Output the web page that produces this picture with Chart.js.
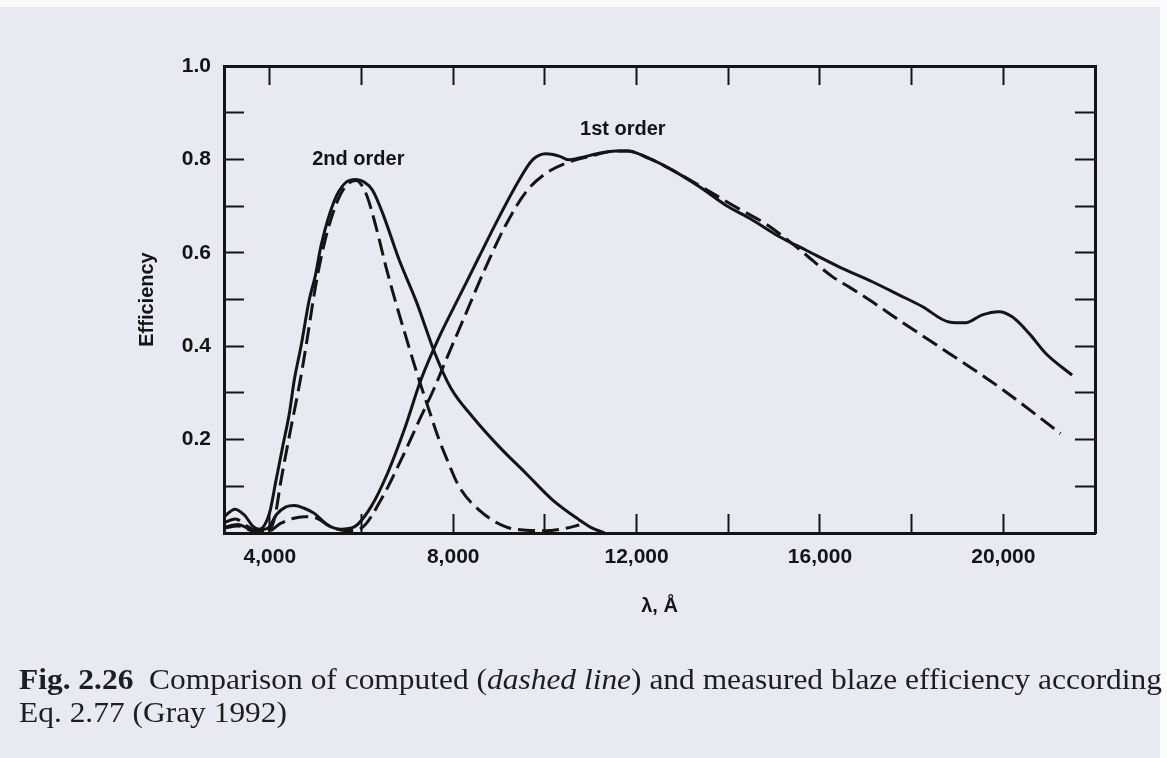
<!DOCTYPE html>
<html>
<head>
<meta charset="utf-8">
<script src="https://cdn.jsdelivr.net/npm/chart.js@4.4.1/dist/chart.umd.min.js"></script>
<style>
  html, body { margin: 0; padding: 0; background: #fbfbfd; }
  #page { position: absolute; left: 0; top: 7px; width: 1160px; height: 751px; background: #e8e9f1; }
  #wrap { position: absolute; left: 0; top: 0; width: 1167px; height: 758px; }
  #caption {
    position: absolute; left: 19px; top: 662px;
    font-family: "Liberation Serif", "Times New Roman", serif;
    font-size: 30px; line-height: 33px; color: #1e1e22;
    white-space: nowrap; transform-origin: 0 0;
  }
</style>
</head>
<body>
<div id="page"></div>
<div id="wrap"><canvas id="blaze" width="1167" height="758"></canvas></div>
<div id="caption"><span id="line1"><b>Fig. 2.26</b>&nbsp; Comparison of computed (<i>dashed line</i>) and measured blaze efficiency according</span><br>Eq. 2.77 (Gray 1992)</div>

<script>
// wavelength in Angstrom, efficiency 0..1

// 2nd order, measured (solid)
const wl2Meas = [3000, 3240, 3450, 3625, 3770, 3990, 4135, 4280, 4425, 4534, 4680, 4861, 4990, 5116, 5400, 5650, 5880, 6050, 6240, 6460, 6820, 7190, 7600, 7950, 8420, 9000, 9585, 10165, 10750, 11000, 11300];
const eff2Meas = [0.035, 0.051, 0.038, 0.015, 0.008, 0.042, 0.113, 0.185, 0.256, 0.328, 0.400, 0.500, 0.550, 0.615, 0.710, 0.750, 0.757, 0.752, 0.734, 0.685, 0.585, 0.497, 0.385, 0.310, 0.249, 0.185, 0.128, 0.071, 0.028, 0.012, 0.000];

// 2nd order, computed (dashed)
const wl2Calc = [3000, 3250, 3500, 3750, 3950, 4100, 4244, 4450, 4665, 4789, 5000, 5200, 5450, 5650, 5880, 6097, 6315, 6533, 6751, 6969, 7187, 7450, 7695, 7841, 8131, 8567, 9149, 9585, 10000, 10400, 10750];
const eff2Calc = [0.022, 0.030, 0.015, 0.004, 0.004, 0.030, 0.113, 0.220, 0.328, 0.400, 0.530, 0.625, 0.705, 0.742, 0.755, 0.727, 0.656, 0.570, 0.492, 0.420, 0.349, 0.270, 0.199, 0.163, 0.099, 0.049, 0.013, 0.006, 0.005, 0.009, 0.017];

// 1st order, measured (solid)
const wl1Meas = [3000, 3300, 3650, 3950, 4150, 4350, 4534, 4750, 4970, 5260, 5552, 5842, 6206, 6568, 6932, 7296, 7695, 8131, 8567, 9003, 9439, 9730, 10021, 10311, 10529, 10750, 11183, 11547, 11800, 12273, 12781, 13363, 13945, 14500, 15107, 15689, 16415, 17142, 17722, 18232, 18813, 19177, 19539, 19903, 20193, 20557, 20921, 21500];
const eff1Meas = [0.012, 0.018, 0.006, 0.010, 0.040, 0.056, 0.059, 0.053, 0.042, 0.017, 0.008, 0.013, 0.056, 0.128, 0.221, 0.328, 0.420, 0.506, 0.592, 0.677, 0.756, 0.799, 0.812, 0.807, 0.799, 0.803, 0.813, 0.818, 0.818, 0.802, 0.777, 0.742, 0.702, 0.672, 0.635, 0.606, 0.570, 0.538, 0.510, 0.485, 0.452, 0.450, 0.467, 0.474, 0.463, 0.428, 0.385, 0.338];

// 1st order, computed (dashed)
const wl1Calc = [3000, 3300, 3650, 3950, 4244, 4500, 4752, 5042, 5334, 5696, 5988, 6424, 6860, 7296, 7586, 7841, 8277, 8713, 9149, 9585, 10021, 10457, 10965, 11547, 11800, 12273, 12781, 13509, 14235, 14817, 15543, 16269, 16633, 17142, 17722, 18813, 19903, 21248];
const eff1Calc = [0.010, 0.015, 0.004, 0.003, 0.021, 0.031, 0.035, 0.031, 0.013, 0.005, 0.010, 0.071, 0.156, 0.249, 0.310, 0.370, 0.470, 0.570, 0.660, 0.730, 0.770, 0.792, 0.806, 0.818, 0.818, 0.802, 0.777, 0.736, 0.694, 0.662, 0.608, 0.549, 0.527, 0.495, 0.456, 0.385, 0.313, 0.213];

// axes
const xTicks = [4000, 6000, 8000, 10000, 12000, 14000, 16000, 18000, 20000];
const xLabelled = [4000, 8000, 12000, 16000, 20000];
const yTicks = [0.1, 0.2, 0.3, 0.4, 0.5, 0.6, 0.7, 0.8, 0.9];
const yLabelled = [0.2, 0.4, 0.6, 0.8, 1.0];

const curveLabels = [
  { text: '2nd order', x: 5930, y: 0.800 },
  { text: '1st order', x: 11700, y: 0.863 }
];

const ink = '#141416';
const sans = '"Liberation Sans", Arial, sans-serif';

function pts(xs, ys) {
  return xs.map((x, i) => ({ x: x, y: ys[i] }));
}

function line(xs, ys, dashed) {
  return {
    data: pts(xs, ys),
    borderColor: ink,
    borderWidth: 3,
    borderDash: dashed ? [17, 7] : [],
    pointRadius: 0,
    fill: false,
    cubicInterpolationMode: 'monotone'
  };
}

const frameGrid = (len) => ({
  drawOnChartArea: false,
  drawTicks: true,
  tickLength: len,
  tickWidth: 2,
  tickColor: ink
});
const frameBorder = { display: true, width: 3, color: ink };

// labels inside the plot, placed through the scales
const curveLabelPlugin = {
  id: 'curveLabels',
  afterDatasetsDraw(chart) {
    const { ctx, scales } = chart;
    ctx.save();
    ctx.font = 'bold 20px ' + sans;
    ctx.fillStyle = ink;
    ctx.textAlign = 'center';
    ctx.textBaseline = 'middle';
    curveLabels.forEach(l => {
      ctx.fillText(l.text, scales.x.getPixelForValue(l.x), scales.y.getPixelForValue(l.y));
    });
    ctx.restore();
  }
};

new Chart(document.getElementById('blaze'), {
  type: 'line',
  data: {
    datasets: [
      line(wl2Meas, eff2Meas, false),
      line(wl2Calc, eff2Calc, true),
      line(wl1Meas, eff1Meas, false),
      line(wl1Calc, eff1Calc, true)
    ]
  },
  options: {
    responsive: false,
    animation: false,
    layout: { padding: { top: 46, right: 52, bottom: 115, left: 0 } },
    plugins: { legend: { display: false }, tooltip: { enabled: false } },
    scales: {
      x: {
        type: 'linear', position: 'bottom', min: 3000, max: 22000,
        afterBuildTicks: s => { s.ticks = xTicks.map(v => ({ value: v })); },
        afterFit: s => { s.height = 110; },
        ticks: {
          autoSkip: false, maxRotation: 0, padding: 31,
          color: ink, font: { family: sans, size: 21, weight: 'bold' },
          callback: v => xLabelled.includes(v) ? v.toLocaleString('en-US') : ''
        },
        grid: frameGrid(-19),
        border: frameBorder,
        title: {
          display: true, text: 'λ, Å', color: ink,
          font: { family: sans, size: 20, weight: 'bold' },
          padding: { top: 0, bottom: 25 }
        }
      },
      xTop: {
        type: 'linear', position: 'top', min: 3000, max: 22000,
        afterBuildTicks: s => { s.ticks = xTicks.map(v => ({ value: v })); },
        afterFit: s => { s.height = 20; },
        ticks: { display: false },
        grid: frameGrid(-19),
        border: frameBorder
      },
      y: {
        type: 'linear', position: 'left', min: 0, max: 1,
        afterBuildTicks: s => { s.ticks = yTicks.concat([1.0]).map(v => ({ value: v })); },
        afterFit: s => { s.width = 224; },
        ticks: {
          padding: 33, color: ink, font: { family: sans, size: 21, weight: 'bold' },
          callback: v => yLabelled.some(t => Math.abs(t - v) < 1e-6) ? v.toFixed(1) : ''
        },
        grid: frameGrid(-20),
        border: frameBorder,
        title: {
          display: true, text: 'Efficiency', color: ink,
          font: { family: sans, size: 20, weight: 'bold' },
          padding: { top: 135, bottom: 0 }
        }
      },
      yRight: {
        type: 'linear', position: 'right', min: 0, max: 1,
        afterBuildTicks: s => { s.ticks = yTicks.map(v => ({ value: v })); },
        afterFit: s => { s.width = 20; },
        ticks: { display: false },
        grid: frameGrid(-20),
        border: frameBorder
      }
    }
  },
  plugins: [curveLabelPlugin]
});

// squeeze the caption so its first line spans the page width like the scan
const cap = document.getElementById('caption');
const w1 = document.getElementById('line1').getBoundingClientRect().width;
cap.style.transform = 'scaleX(' + (1143 / w1) + ')';
</script>
</body>
</html>
